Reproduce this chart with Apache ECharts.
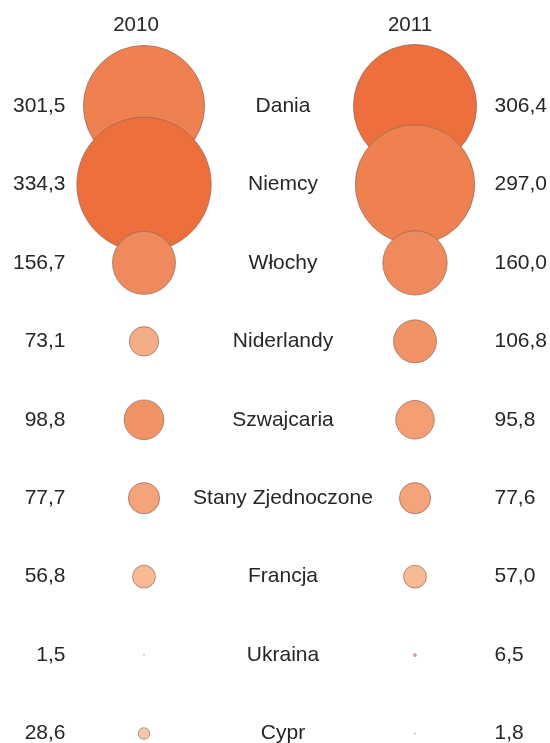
<!DOCTYPE html>
<html>
<head>
<meta charset="utf-8">
<script src="https://cdn.jsdelivr.net/npm/echarts@6/dist/echarts.min.js"></script>
<style>html,body{margin:0;padding:0;background:#fff}#c{width:550px;height:743px}</style>
</head>
<body>
<div id="c"></div>
<script>
const countries = ['Dania','Niemcy','Włochy','Niderlandy','Szwajcaria','Stany Zjednoczone','Francja','Ukraina','Cypr'];
const years = ['2010','2011'];
const values2010 = [301.5,334.3,156.7,73.1,98.8,77.7,56.8,1.5,28.6];
const values2011 = [306.4,297.0,160.0,106.8,95.8,77.6,57.0,6.5,1.8];

const FONT = "'Liberation Sans', Arial, sans-serif";
const TXT = '#262626';
const X2010 = 144, X2011 = 415, XNAME = 283, XLEFT = 66, XRIGHT = 494;
const fmt = v => v.toFixed(1).replace('.', ',');

const chart = echarts.init(document.getElementById('c'));

const bubble = (x, vals) => ({
  type: 'scatter',
  data: countries.map((c, i) => [x, c, vals[i]]),
  symbolSize: d => d[2] * 0.402,
  itemStyle: { borderColor: '#8c6a5a', borderWidth: 0.7, opacity: 1 },
  silent: true,
  z: 2
});
const textSeries = (x, texts, pos) => ({
  type: 'scatter',
  data: countries.map((c, i) => ({ value: [x, c], txt: texts[i] })),
  symbolSize: 1,
  itemStyle: { color: 'rgba(0,0,0,0)', opacity: 1 },
  label: {
    show: true, position: pos, distance: 0,
    formatter: p => p.data.txt,
    fontFamily: FONT, fontSize: 21, color: TXT, opacity: 1
  },
  silent: true,
  z: 3
});

chart.setOption({
  animation: false,
  grid: { left: 0, right: 0, top: 106, bottom: 9.5 },
  xAxis: { type: 'value', min: 0, max: 550, show: false },
  yAxis: { type: 'category', data: countries, inverse: true, boundaryGap: false, show: false },
  visualMap: {
    type: 'piecewise', show: false, seriesIndex: [0, 1], dimension: 2,
    pieces: [
      { gte: 305, color: '#EC6F3D' },
      { gte: 200, lt: 305, color: '#EF8050' },
      { gte: 130, lt: 200, color: '#F08A5C' },
      { gte: 97, lt: 130, color: '#F29366' },
      { gte: 85, lt: 97, color: '#F39E73' },
      { gte: 75, lt: 85, color: '#F4A37B' },
      { gte: 65, lt: 75, color: '#F5AD87' },
      { gte: 40, lt: 65, color: '#F7BA95' },
      { lt: 40, color: '#F9C7A7' }
    ]
  },
  graphic: [
    { type: 'text', x: 136, y: 25, style: { text: years[0], align: 'center', verticalAlign: 'middle', font: "20.5px 'Liberation Sans', Arial, sans-serif", fill: TXT } },
    { type: 'text', x: 410, y: 25, style: { text: years[1], align: 'center', verticalAlign: 'middle', font: "20.5px 'Liberation Sans', Arial, sans-serif", fill: TXT } }
  ],
  series: [
    bubble(X2010, values2010),
    bubble(X2011, values2011),
    textSeries(XLEFT, values2010.map(fmt), 'left'),
    textSeries(XRIGHT, values2011.map(fmt), 'right'),
    textSeries(XNAME, countries, 'inside')
  ]
});
</script>
</body>
</html>
